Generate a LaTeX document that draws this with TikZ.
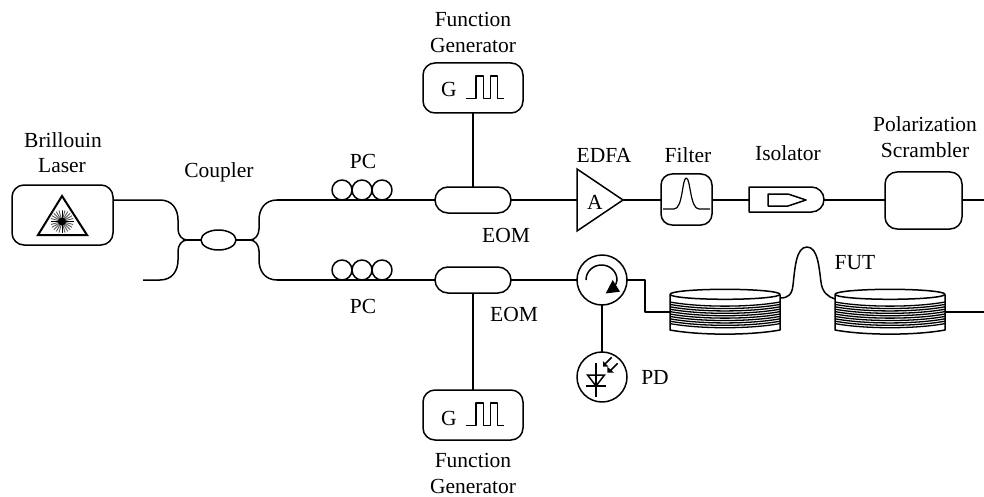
\documentclass[tikz,border=0pt]{standalone}
\usepackage{fontspec}
\setmainfont{Liberation Serif}
\usetikzlibrary{shapes.geometric,shapes.misc,calc}
\tikzset{
  x=1pt,y=-1pt,
  every picture/.append style={line join=round},
  wire/.style={line width=1.5pt},
  lbl/.style={font=\fontsize{21.5}{25}\selectfont,inner sep=0pt,text=black},
  rbox/.style={draw,wire,rounded corners=11pt,inner sep=0pt,outer sep=0pt,minimum width=#1},
  pill/.style={draw,wire,rounded rectangle,inner sep=0pt,outer sep=0pt,minimum width=76pt,minimum height=26pt},
  circ/.style={draw,wire,circle,inner sep=0pt,outer sep=0pt,minimum size=#1},
  pcring/.style={draw,wire,circle,inner sep=0pt,outer sep=0pt,minimum size=20pt},
  windg/.style={line width=1.3pt},
}
\newcommand{\pulsetrain}[2]{%
  \draw[wire] (#1,#2) -- ++(10,0) -- ++(0,-22.5) -- ++(7.3,0) -- ++(0,22.5) -- ++(7.4,0) -- ++(0,-22.5) -- ++(7,0) -- ++(0,22.5) -- ++(6.6,0);}
\newcommand{\fibrecoil}[2]{%
  \fill[white] (#1,#2) rectangle ++(110,35);
  \foreach \k in {0,...,9}{
    \draw[windg] (#1,#2+7+2.4*\k) .. controls (#1+30,#2+12.5+2.4*\k) and (#1+80,#2+12.5+2.4*\k) .. (#1+110,#2+7+2.4*\k);
  }
  \draw[wire] (#1,#2) -- (#1,#2+35) .. controls (#1+30,#2+40.5) and (#1+80,#2+40.5) .. (#1+110,#2+35) -- (#1+110,#2);
  \draw[wire] (#1+55,#2-.7) ellipse [x radius=55,y radius=5];}
\begin{document}
\begin{tikzpicture}
\useasboundingbox (0,0) rectangle (984,497);
% Laser
\node[rbox=101pt,minimum height=60pt,rounded corners=12pt] (laser) at (62.5,215) {};
\node[lbl] (l1) at (63,140) {Brillouin};
\node[lbl] (l2) at (62,166) {Laser};
\draw[line width=2pt,line join=miter] (62,196) -- (87,235) -- (38,235) -- cycle;
\foreach \a in {0,15,...,345}{
  \draw[line width=.9pt,black!65] (62,221.5) -- ++(\a:11.5);
}
\draw[line width=.7pt] (62,210.5) -- (62,232.5);
\draw[line width=.7pt] (50.5,221.5) -- (73.5,221.5);
\fill[black] (62,221.5) circle (4);
% Coupler
\node[draw,wire,ellipse,inner sep=0pt,outer sep=0pt,minimum width=35pt,minimum height=20pt] (coupler) at (218.5,240) {};
\node[lbl] (cl) at (219,172) {Coupler};
\coordinate (fin) at (143,280);
\coordinate (jl) at (187,240);
\coordinate (jr) at (250,240);
\coordinate (tr) at (277,200);
\coordinate (br) at (277,280);
\draw[wire] (laser.east |- 0,200) -- (160,200) .. controls (172,200) and (178,209) .. (178,220) -- (178,229) .. controls (178,235) and (182,240) .. (jl);
\draw[wire] (fin) -- (160,280) .. controls (172,280) and (178,271) .. (178,260) -- (178,251) .. controls (178,245) and (182,240) .. (jl);
\draw[wire] (jl) -- (coupler.west);
\draw[wire] (coupler.east) -- (jr);
\draw[wire] (jr) .. controls (255,240) and (259,235) .. (259,229) -- (259,220) .. controls (259,209) and (265,200) .. (tr);
\draw[wire] (jr) .. controls (255,240) and (259,245) .. (259,251) -- (259,260) .. controls (259,271) and (265,280) .. (br);
% EOMs
\node[pill] (eom1) at (473,200) {};
\node[pill] (eom2) at (473,280) {};
\draw[wire] (tr) -- (eom1.west);
\draw[wire] (br) -- (eom2.west);
\node[lbl] (eo1) at (506,235) {EOM};
\node[lbl] (eo2) at (514,314) {EOM};
% PCs
\foreach \n/\xx in {a/342,b/362,c/382}{
  \node[pcring] (pt\n) at (\xx,190) {};
  \node[pcring] (pb\n) at (\xx,270) {};
}
\node[lbl] (pc1) at (363,161) {PC};
\node[lbl] (pc2) at (363,306) {PC};
% Function generators
\node[rbox=100pt,minimum height=50pt,rounded corners=12pt] (g1) at (473,88) {};
\node[rbox=100pt,minimum height=50pt,rounded corners=12pt] (g2) at (473,415) {};
\node[lbl] (gt1) at (449,89) {G};
\node[lbl] (gt2) at (449,418) {G};
\pulsetrain{466}{98.5}
\pulsetrain{466}{425.7}
\draw[wire] (g1) -- (eom1);
\draw[wire] (g2) -- (eom2);
\node[lbl] (f1) at (473,19) {Function};
\node[lbl] (f2) at (473,45) {Generator};
\node[lbl] (f3) at (473,460) {Function};
\node[lbl] (f4) at (473,486) {Generator};
% EDFA
\coordinate (ea) at (577,169);
\coordinate (eb) at (577,231);
\coordinate (ec) at (623,200);
\draw[wire,line join=miter] (ea) -- (ec) -- (eb) -- cycle;
\coordinate (ew) at (577,200);
\node[lbl] (A) at (595,202) {A};
\node[lbl] (el) at (604,155) {EDFA};
\draw[wire] (eom1.east) -- (ew);
% Filter
\node[rbox=51pt,minimum height=51pt] (filter) at (686.5,199.5) {};
\node[lbl] (fl) at (688,155) {Filter};
\draw[line width=1.2pt] (663,209) -- (674,209) .. controls (683,209) and (682,178) .. (686.3,178) .. controls (690.5,178) and (690,209) .. (699,209) -- (710,209);
\draw[wire] (ec) -- (filter.west |- ec);
% Isolator
\node[draw,wire,rounded rectangle,rounded rectangle west arc=none,inner sep=0pt,outer sep=0pt,minimum width=75pt,minimum height=25pt] (iso) at (786.5,199.5) {};
\node[lbl] (il) at (788,153) {Isolator};
\draw[wire] (768,194) -- (788,194) -- (806,200) -- (788,206) -- (768,206) -- cycle;
\draw[wire] (filter.east |- 0,200) -- (iso.west |- 0,200);
% Scrambler
\node[rbox=77pt,minimum height=57pt,rounded corners=12pt] (scr) at (923.5,200.5) {};
\node[lbl] (s1) at (925,124) {Polarization};
\node[lbl] (s2) at (925,150) {Scrambler};
\coordinate (oa) at (984,200);
\draw[wire] (iso.east |- 0,200) -- (scr.west |- 0,200);
\draw[wire] (scr.east |- 0,200) -- (oa);
% Circulator
\node[circ=50pt] (circ) at (602,280) {};
\draw[wire] (586,280) .. controls (586,271.5) and (593,265) .. (601.5,265) .. controls (610,265) and (617,271.5) .. (617,280) .. controls (617,283) and (615.5,285) .. (613,288);
\fill[black] (605.7,293.5) -- (620,291.7) -- (612.7,280) -- cycle;
\draw[wire] (eom2.east) -- (circ.west);
% Coils
\fibrecoil{670}{295}
\fibrecoil{835}{295}
\coordinate (c1w) at (670,312);
\coordinate (c1e) at (780,298);
\coordinate (c2w) at (835,299);
\coordinate (c2e) at (945,312);
\coordinate (ob) at (984,312);
\draw[wire] (circ.east) -- (645,280) -- (645,312) -- (c1w);
\draw[wire] (c2e) -- (ob);
\draw[wire] (c1e) .. controls (788,298) and (792,295) .. (793,285) .. controls (795,268) and (796,247) .. (807,247) .. controls (818,247) and (819,268) .. (821,282) .. controls (822,292) and (828,297) .. (c2w);
\node[lbl] (fut) at (855,263) {FUT};
% PD
\node[circ=50pt] (pd) at (602,377) {};
\draw[wire] (circ) -- (pd);
\node[lbl] (pdl) at (655,377) {PD};
\draw[wire] (596,363) -- (596,397);
\draw[wire,line join=miter] (587.5,375) -- (604.5,375) -- (596,386) -- cycle;
\draw[wire] (586,386) -- (606,386);
\draw[wire] (611.7,357.3) -- (605,364);
\fill (603,366.7) -- (603,361) -- (608.5,366.7) -- cycle;
\draw[wire] (617.7,363.3) -- (610,371);
\fill (607.3,372.7) -- (607.3,366.7) -- (614,372.7) -- cycle;
\end{tikzpicture}
\end{document}
